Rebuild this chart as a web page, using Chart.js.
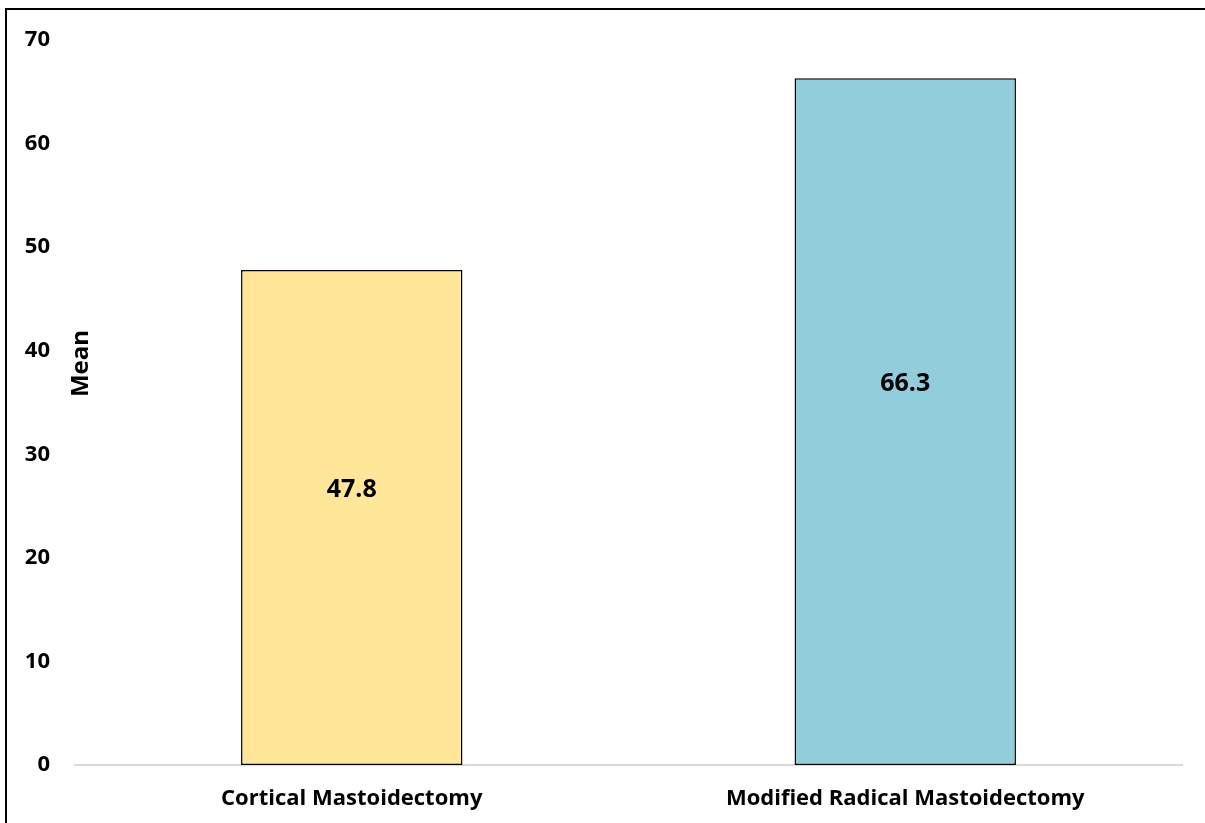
<!DOCTYPE html>
<html>
<head>
<meta charset="utf-8">
<script src="https://cdn.jsdelivr.net/npm/chart.js@4.4.1/dist/chart.umd.min.js"></script>
<style>
    html, body { margin: 0; padding: 0; background: #fff; overflow: hidden; }
    #wrap { position: relative; width: 1205px; height: 823px; }
    #frame { position: absolute; left: 5px; top: 8px; width: 1300px; height: 900px; border: 2px solid #000; box-sizing: border-box; }
    canvas { position: absolute; left: 0; top: 0; }
</style>
</head>
<body>
<div id="wrap">
    <div id="frame"></div>
    <canvas id="meanChart" width="1205" height="823"></canvas>
</div>
<script>
const CATEGORIES = ["Cortical Mastoidectomy", "Modified Radical Mastoidectomy"];
const MEANS = [47.8, 66.3];
const BAR_COLORS = ["#FFE699", "#92CDDC"];
const Y_TITLE = "Mean";
const FONT = "'Open Sans', sans-serif";

// value labels inside the bars, plus the axis title sitting right of the ticks
const barLabels = {
    id: "barLabels",
    afterDatasetsDraw(chart) {
        const c = chart.ctx;
        const meta = chart.getDatasetMeta(0);
        const y = chart.scales.y;
        c.save();
        c.font = "bold 25px " + FONT;
        c.fillStyle = "#000";
        c.textAlign = "center";
        c.textBaseline = "middle";
        meta.data.forEach((bar, i) => {
            const v = MEANS[i];
            c.fillText(v.toFixed(1), bar.x, y.getPixelForValue(v * 0.555));
        });
        c.translate(chart.chartArea.left + 6, (chart.chartArea.top + chart.chartArea.bottom) / 2 - 39);
        c.rotate(-Math.PI / 2);
        c.font = "bold 24px " + FONT;
        c.fillText(Y_TITLE, 0, 0);
        c.restore();
    }
};

const ctx = document.getElementById("meanChart").getContext("2d");

new Chart(ctx, {
    type: "bar",
    data: {
        labels: CATEGORIES,
        datasets: [{
            data: MEANS,
            backgroundColor: BAR_COLORS,
            borderColor: "#000",
            borderWidth: 1.5,
            borderSkipped: false,
            barPercentage: 0.4,
            categoryPercentage: 1
        }]
    },
    options: {
        responsive: false,
        animation: false,
        devicePixelRatio: 1,
        layout: { padding: { top: 40, right: 23, left: 0, bottom: 0 } },
        plugins: { legend: { display: false }, tooltip: { enabled: false } },
        scales: {
            x: {
                grid: { display: false, drawTicks: false },
                border: { display: true, color: "#d9d9d9", width: 2 },
                ticks: { color: "#000", padding: 21, font: { family: FONT, size: 22, weight: "bold" } },
                afterFit: (s) => { s.height = 58; }
            },
            y: {
                min: 0,
                max: 70,
                grid: { display: false, drawTicks: false },
                border: { display: false },
                ticks: { stepSize: 10, color: "#000", padding: 25, font: { family: FONT, size: 22, weight: "bold" } },
                afterFit: (s) => { s.width = 75; }
            }
        }
    },
    plugins: [barLabels]
});
</script>
</body>
</html>
